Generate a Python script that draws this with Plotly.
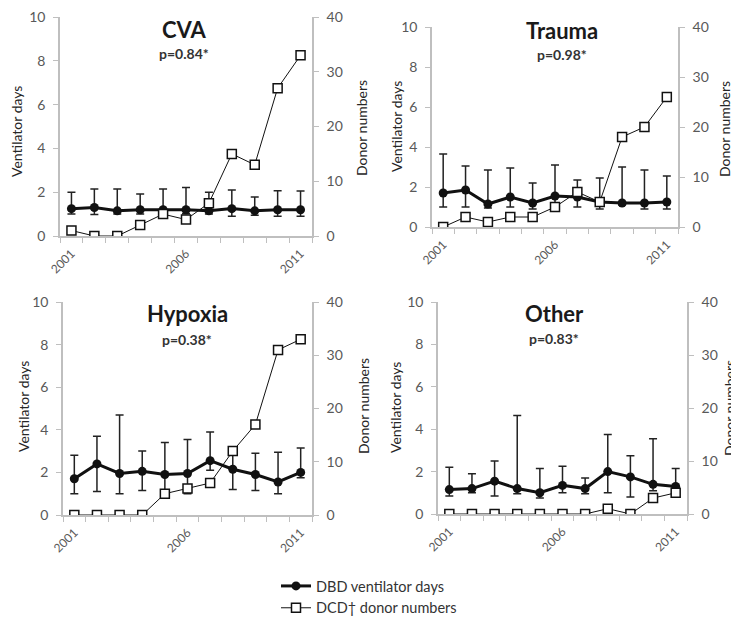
import plotly.graph_objects as go

years = list(range(2001, 2012))
tick_years = [2001, 2006, 2011]
panels = ["CVA", "Trauma", "Hypoxia", "Other"]
p_values = ["p=0.84*", "p=0.98*", "p=0.38*", "p=0.83*"]

# DBD ventilator days (mean), upper error end, lower error end
cva_vent = [1.25, 1.3, 1.15, 1.2, 1.2, 1.2, 1.15, 1.25, 1.15, 1.2, 1.2]
cva_hi = [2.0, 2.15, 2.15, 1.92, 2.15, 2.22, 2.0, 2.1, 1.78, 2.07, 2.05]
cva_lo = [1.0, 0.98, 1.0, 1.0, 1.05, 1.02, 1.0, 0.9, 0.95, 0.9, 0.9]
cva_dcd = [1, 0, 0, 2, 4, 3, 6, 15, 13, 27, 33]

trauma_vent = [1.7, 1.85, 1.15, 1.5, 1.2, 1.55, 1.5, 1.25, 1.2, 1.2, 1.25]
trauma_hi = [3.65, 3.05, 2.85, 2.95, 2.2, 3.1, 2.35, 2.45, 3.0, 2.85, 2.55]
trauma_lo = [1.0, 1.0, 0.95, 1.0, 0.9, 1.0, 1.0, 0.9, 1.1, 0.9, 0.9]
trauma_dcd = [0, 2, 1, 2, 2, 4, 7, 5, 18, 20, 26]

hypoxia_vent = [1.7, 2.4, 1.95, 2.05, 1.9, 1.95, 2.55, 2.15, 1.9, 1.55, 2.0]
hypoxia_hi = [2.8, 3.7, 4.7, 3.0, 3.4, 3.55, 3.9, 2.9, 2.9, 2.95, 3.15]
hypoxia_lo = [1.0, 1.1, 1.0, 1.15, 1.0, 1.0, 2.1, 1.2, 1.15, 1.0, 1.75]
hypoxia_dcd = [0, 0, 0, 0, 4, 5, 6, 12, 17, 31, 33]

other_vent = [1.15, 1.2, 1.55, 1.2, 1.0, 1.35, 1.2, 2.0, 1.75, 1.4, 1.3]
other_hi = [2.2, 1.9, 2.5, 4.65, 2.15, 2.25, 1.7, 3.75, 2.75, 3.55, 2.15]
other_lo = [0.85, 1.0, 0.85, 0.95, 0.75, 1.0, 0.95, 1.0, 0.8, 1.1, 1.0]
other_dcd = [0, 0, 0, 0, 0, 0, 0, 1, 0, 3, 4]

data = [
    (cva_vent, cva_hi, cva_lo, cva_dcd),
    (trauma_vent, trauma_hi, trauma_lo, trauma_dcd),
    (hypoxia_vent, hypoxia_hi, hypoxia_lo, hypoxia_dcd),
    (other_vent, other_hi, other_lo, other_dcd),
]

# page body has an 8px margin; the figure fills the rest of the 739x622 window
OFF = 8
W, H = 739 - OFF, 622 - OFF


def px(x):
    return (x - OFF) / W


def py(y):
    return 1 - (y - OFF) / H


# screen-pixel boxes: left, right, top, bottom
boxes = [(60, 312, 17, 236), (432, 678, 27, 227), (63, 312, 302, 515), (438, 687, 302, 514)]
# title centre x, title y, p-value y
title_pos = [(184, 29, 53), (562, 30, 54), (187, 313, 339), (554, 313, 338)]
# axis-title centres: (left x, left y, right x, right y)
axis_title_pos = [(17, 132, 362, 128), (397, 127, 725, 129), (23, 407, 363, 406), (395, 408, 729, 408)]

FONT = "Lato, 'Liberation Sans', sans-serif"
AX = "#bfbfbf"
TK = "#595959"

fig = go.Figure()
layout = {}
annotations = []
for i, (name, pv, (vent, hi, lo, dcd), box, tp, ap) in enumerate(
        zip(panels, p_values, data, boxes, title_pos, axis_title_pos)):
    xn = "x" if i == 0 else f"x{i+1}"
    xo = f"x{i+5}"
    yl = "y" if i == 0 else f"y{2*i+1}"
    yr = f"y{2*i+2}"
    plus = [h - v for h, v in zip(hi, vent)]
    minus = [v - l for v, l in zip(vent, lo)]
    fig.add_trace(go.Scatter(
        x=years, y=vent, xaxis=xn, yaxis=yl, mode="lines+markers",
        name="DBD ventilator days", legendrank=1, showlegend=(i == 0),
        line=dict(color="#111111", width=3),
        marker=dict(symbol="circle", size=9, color="#111111"),
        error_y=dict(type="data", symmetric=False, array=plus, arrayminus=minus,
                     color="#222222", thickness=1.5, width=4),
    ))
    fig.add_trace(go.Scatter(
        x=years, y=dcd, xaxis=xo, yaxis=yr, mode="lines+markers",
        name="DCD\u2020 donor numbers", legendrank=2, showlegend=(i == 0),
        line=dict(color="#111111", width=1),
        marker=dict(symbol="square", size=9, color="white",
                    line=dict(color="#111111", width=1.5)),
    ))
    l, r, t, b = box
    xdom = [px(l), px(r)]
    ydom = [py(b), py(t)]
    xkey = "xaxis" if i == 0 else f"xaxis{i+1}"
    xokey = f"xaxis{i+5}"
    ylkey = "yaxis" if i == 0 else f"yaxis{2*i+1}"
    yrkey = f"yaxis{2*i+2}"
    # main x axis: line + boundary ticks
    layout[xkey] = dict(
        domain=xdom, anchor=yl, range=[2000.5, 2011.5], automargin=False,
        tickmode="linear", tick0=2000.5, dtick=1, showticklabels=False,
        ticks="outside", ticklen=5, tickcolor=AX, tickwidth=1,
        showline=True, linecolor=AX, linewidth=1.5, showgrid=False, zeroline=False,
    )
    # overlay x axis: year labels only
    layout[xokey] = dict(
        domain=xdom, anchor=yl, overlaying=xn, side="bottom", range=[2000.5, 2011.5],
        automargin=False, tickmode="array", tickvals=tick_years,
        ticktext=[str(y) for y in tick_years], ticks="outside", ticklen=5,
        tickcolor="rgba(0,0,0,0)", tickangle=-45, ticklabeloverflow="allow",
        tickfont=dict(size=12, color=TK, family=FONT),
        showline=False, showgrid=False, zeroline=False,
    )
    layout[ylkey] = dict(
        domain=ydom, anchor=xn, range=[0, 10], tickmode="linear", tick0=0, dtick=2,
        automargin=False, ticklabeloverflow="allow",
        ticks="outside", ticklen=5, tickcolor=AX, showline=True, linecolor=AX, linewidth=1.5,
        showgrid=False, zeroline=False, tickfont=dict(size=14, color=TK, family=FONT),
        ticklabelstandoff=5,
    )
    layout[yrkey] = dict(
        domain=ydom, anchor=xn, overlaying=yl, side="right", range=[0, 40],
        automargin=False, ticklabeloverflow="allow",
        tickmode="linear", tick0=0, dtick=10, ticks="outside", ticklen=5, tickcolor=AX,
        showline=True, linecolor=AX, linewidth=1.5, showgrid=False, zeroline=False,
        tickfont=dict(size=14, color=TK, family=FONT), ticklabelstandoff=5,
    )
    cx, ty, pvy = tp
    annotations.append(dict(text=f"<b>{name}</b>", x=px(cx), y=py(ty), xref="paper", yref="paper",
                            showarrow=False, xanchor="center", yanchor="middle",
                            font=dict(size=22, color="#1a1a1a", family=FONT)))
    annotations.append(dict(text=f"<b>{pv}</b>", x=px(cx), y=py(pvy), xref="paper", yref="paper",
                            showarrow=False, xanchor="center", yanchor="middle",
                            font=dict(size=14, color="#333333", family=FONT)))
    lx, ly, rx, ry = ap
    annotations.append(dict(text="Ventilator days", x=px(lx), y=py(ly), xref="paper", yref="paper",
                            showarrow=False, xanchor="center", yanchor="middle", textangle=-90,
                            font=dict(size=14, color="#262626", family=FONT)))
    annotations.append(dict(text="Donor numbers", x=px(rx), y=py(ry), xref="paper", yref="paper",
                            showarrow=False, xanchor="center", yanchor="middle", textangle=-90,
                            font=dict(size=14, color="#262626", family=FONT)))

fig.update_layout(
    width=W, height=H, margin=dict(l=0, r=0, t=0, b=0, autoexpand=False),
    template="none",
    paper_bgcolor="white", plot_bgcolor="white",
    font=dict(family=FONT, color="#333333"),
    annotations=annotations,
    showlegend=True,
    legend=dict(x=px(276), y=py(570), xanchor="left", yanchor="top",
                font=dict(size=14.5, color="#333333", family=FONT),
                bgcolor="rgba(0,0,0,0)", itemwidth=30, tracegroupgap=2),
    **layout,
)

fig.write_html("out.html")
